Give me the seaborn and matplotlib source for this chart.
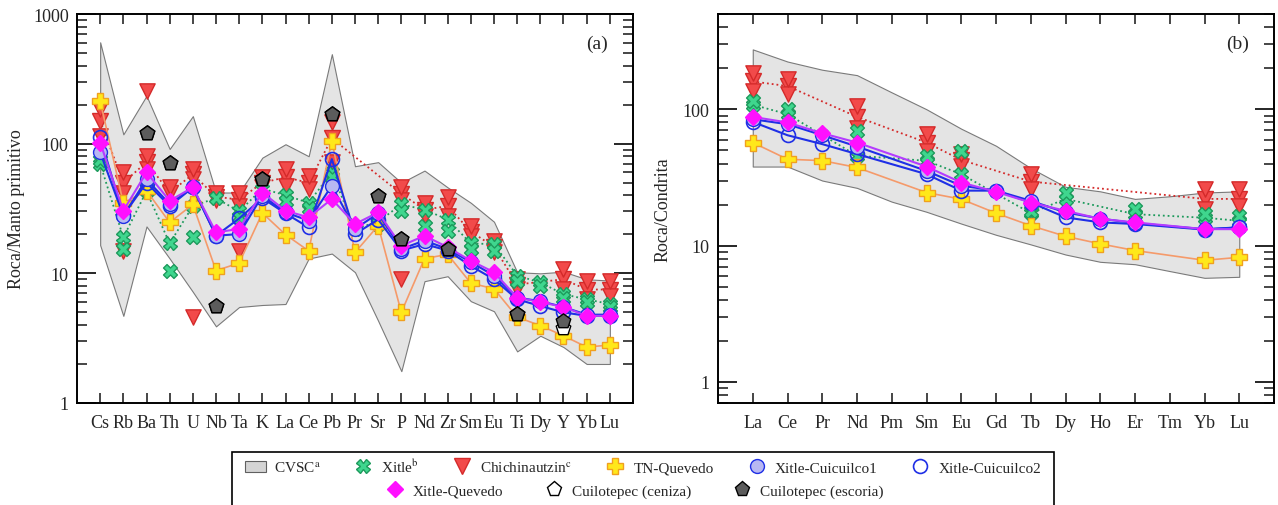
import numpy as np
import pandas as pd
import matplotlib.pyplot as plt
import seaborn as sns
from matplotlib.lines import Line2D
from matplotlib.patches import Patch, Rectangle
from matplotlib.ticker import FuncFormatter, NullFormatter, LogLocator

nan = np.nan

# ---- data: (a) multi-element diagram normalised to primitive mantle
spider_elems = ['Cs', 'Rb', 'Ba', 'Th', 'U', 'Nb', 'Ta', 'K', 'La', 'Ce', 'Pb', 'Pr',
                'Sr', 'P', 'Nd', 'Zr', 'Sm', 'Eu', 'Ti', 'Dy', 'Y', 'Yb', 'Lu']
cvsc_pm_hi = [605, 118, 234, 91, 163, 42, 42, 78, 99, 80, 490, 67, 72, 50, 62, 46, 35, 25, 10.2, 10, 10.3, 9.0, 8.8]
cvsc_pm_lo = [16.5, 4.7, 23, 13, 7.2, 3.9, 5.5, 5.7, 5.8, 13, 14.2, 10.2, 4.3, 1.76, 8.7, 9.5, 6.1, 5.1, 2.5, 3.3, 2.7, 2.0, 2.0]

xitle_pm_1 = [70, 18.9, 43, 17, 33, 38, 30, 45, 40, 35, 60, 22, 25, 34, 31, 26, 17, 16.8, 9.6, 8.5, 6.9, 6.3, 5.8]
xitle_pm_2 = [75, 15.4, 45, 10.5, 19, nan, 27, nan, 36, 32, 55, nan, 24, 30, 23.3, 21.3, 15.4, 15, 8.8, 8, 6.5, 6, 5.5]

chich_pm_1 = [185, 60, 80, 46, 64, 42, 42, 55, 64, 56, 147, nan, nan, 46, 35, 38.5, 23.3, 17.9, 9.0, nan, 10.8, 8.8, 8.8]
chich_pm_2 = [150, 50, 72, 42, 58, 39, 37, 50, 55, 50, 110, nan, nan, 41, 31, 33, 21, 16, 8.2, nan, 9.0, 7.5, 7.5]
chich_pm_3 = [115, 42, 64, nan, 53, 37, 33, 46, 47, 44.6, 72, nan, nan, 37, 27.8, 27.8, 19.5, 14.5, 7.6, nan, 7.6, 6.3, 6.7]
chich_pm_4 = [nan, 15, 256, nan, 4.6, nan, 15, nan, nan, nan, nan, nan, nan, 9.0, nan, nan, nan, nan, nan, nan, nan, nan, nan]

tnq_pm = [214, 34.8, 43.4, 24.7, 34, 10.5, 12.0, 29.2, 19.9, 14.9, 105, 14.5, 23.3, 5.0, 13, 14, 8.4, 7.6, 4.6, 3.95, 3.3, 2.7, 2.8]
cuic1_pm = [86, 27.8, 53, 34.2, 46, 19.5, 20.1, 39.7, 29.5, 25.5, 47.4, 22, 29, 15.4, 17.9, 15.4, 12.2, 9.6, 6.5, 6.1, 5.5, 4.8, 4.8]
cuic2_pm = [112, 28, 50, 33, 46, 19.5, 26.5, 38, 29, 22.6, 76, 20.1, 26, 15, 16.8, 15, 11.4, 9.0, 6.3, 5.6, 5.0, 4.7, 4.7]
xq_pm = [102, 30.4, 60, 36.3, 46, 20.7, 22, 42, 30.4, 27, 37.4, 24, 29.5, 16.3, 19.5, 15.9, 12.5, 10.2, 6.5, 6.0, 5.5, 4.7, 4.7]
ceniza_pm = [nan, nan, 121, 71, nan, 5.6, nan, 53, nan, nan, 169, nan, 39.7, 18.4, nan, 15.4, nan, nan, 4.9, nan, 3.8, nan, nan]
escoria_pm = [nan, nan, 121, 71, nan, 5.6, nan, 53, nan, nan, 169, nan, 39.7, 18.4, nan, 15.4, nan, nan, 4.9, nan, 4.3, nan, nan]

# ---- data: (b) REE normalised to chondrite
ree_elems = ['La', 'Ce', 'Pr', 'Nd', 'Pm', 'Sm', 'Eu', 'Gd', 'Tb', 'Dy', 'Ho', 'Er', 'Tm', 'Yb', 'Lu']
cvsc_ch_hi = [275, 224, 195, 178, 133, 100, 72, 54, 37, 27, 25, 22, 23, 24.5, 25]
cvsc_ch_lo = [38, 38, 30, 26.5, 21, 17.7, 14.5, 12, 10.2, 8.6, 7.6, 7.3, 6.5, 5.8, 5.9]

xitle_ch_1 = [115, 100, nan, 69, nan, 45.6, 49.5, nan, 18, 24.5, nan, 18.5, nan, 17, 16.6]
xitle_ch_2 = [108, 92, nan, 45.6, nan, 41.9, 33.4, nan, 17.3, 22, nan, 17, nan, 16, 15.2]
chich_ch_1 = [185, 166, nan, 106, nan, 65.6, 47, nan, 33.5, nan, nan, nan, nan, 26, 26]
chich_ch_2 = [160, 148, nan, 88, nan, 57, 42.5, nan, 29.5, nan, nan, nan, nan, 22, 22]
chich_ch_3 = [136, 129, nan, 73, nan, 49.5, 38.5, nan, 26, nan, nan, nan, nan, 18.5, 19.6]
tnq_ch = [57, 43, 42, 37.4, nan, 24.5, 21.9, 17.3, 14, 11.7, 10.3, 9.2, nan, 7.8, 8.2]
cuic1_ch = [84.5, 77.7, 64.5, 53.3, nan, 35.3, 27.5, 25.3, 21.3, 17.5, 15.8, 14.6, nan, 13.2, 13.6]
cuic2_ch = [80.8, 64.5, 55.5, 46.9, nan, 33.4, 25.3, 25.3, 20.7, 16.1, 14.8, 14.4, nan, 13.1, 13.6]
xq_ch = [88, 80, 66.7, 57, nan, 38, 29, 24.8, 20.7, 18, 15.7, 14.8, nan, 13.2, 13.2]

# ---- styles
GREEN_F, GREEN_E = '#3fd68e', '#1d9a5c'
RED_F, RED_E = '#f24a4a', '#d42a2a'
YEL_F, YEL_E, ORANGE = '#ffe81a', '#f0a020', '#f59a6a'
BLUE = '#1f2fe6'
LAV = '#b8b8f2'
MAG, PURP = '#ff10ff', '#b43cff'

sns.set_theme(style='ticks')
plt.rcParams['font.family'] = ['Liberation Serif', 'DejaVu Serif']
plt.rcParams['mathtext.fontset'] = 'stix'

fig = plt.figure(figsize=(12.78, 5.06), dpi=100)
ax1 = fig.add_axes([77 / 1278, 1 - 404 / 506, 556 / 1278, 389 / 506])
ax2 = fig.add_axes([718 / 1278, 1 - 404 / 506, 556 / 1278, 389 / 506])


def series(ax, vals, color, ls, lw, marker, ms, mfc, mec, mew=1.0, z=3):
    x = np.arange(len(vals), dtype=float)
    y = np.asarray(vals, dtype=float)
    ok = np.isfinite(y)
    df = pd.DataFrame({'x': x[ok], 'y': y[ok]})
    sns.lineplot(data=df, x='x', y='y', ax=ax, color=color, linestyle=ls, linewidth=lw,
                 marker=marker, markersize=ms, markerfacecolor=mfc, markeredgecolor=mec,
                 markeredgewidth=mew, zorder=z, sort=False, estimator=None)


def points(ax, vals, marker, ms, mfc, mec, z=8):
    x = np.arange(len(vals), dtype=float)
    y = np.asarray(vals, dtype=float)
    ok = np.isfinite(y)
    sns.scatterplot(x=x[ok], y=y[ok], ax=ax, marker=marker, s=ms ** 2, color=mfc,
                    edgecolor=mec, linewidth=1.0, zorder=z)


for ax in (ax1, ax2):
    ax.set_yscale('log')

# (a)
xa = np.arange(len(spider_elems))
ax1.fill_between(xa, cvsc_pm_lo, cvsc_pm_hi, facecolor='#e4e4e4', edgecolor='#7a7a7a', linewidth=0.8, zorder=1)
series(ax1, chich_pm_2, RED_E, ':', 1.3, 'v', 11, RED_F, RED_E, z=3)
for v in (chich_pm_3, chich_pm_1, chich_pm_4):
    points(ax1, v, 'v', 11, RED_F, RED_E, z=3)
series(ax1, xitle_pm_1, GREEN_E, ':', 1.3, 'X', 10, GREEN_F, GREEN_E, z=4)
points(ax1, xitle_pm_2, 'X', 10, GREEN_F, GREEN_E, z=4)
series(ax1, tnq_pm, ORANGE, '-', 1.2, 'P', 11, YEL_F, YEL_E, z=5)
series(ax1, cuic2_pm, BLUE, '-', 1.5, 'o', 10, 'none', BLUE, 1.2, z=6)
series(ax1, cuic1_pm, BLUE, '-', 1.5, 'o', 10, LAV, BLUE, 1.0, z=6)
series(ax1, xq_pm, PURP, '-', 1.5, 'D', 8, MAG, MAG, z=7)
points(ax1, ceniza_pm, 'p', 11, 'white', 'black', z=8)
points(ax1, escoria_pm, 'p', 11, '#5c5c5c', 'black', z=9)

ax1.set_xlim(-1, len(spider_elems))
ax1.set_ylim(1, 1000)
ax1.set_xticks(xa)
ax1.set_xticklabels(spider_elems)
ax1.set_ylabel('Roca/Manto primitivo', fontsize=13, labelpad=6)
ax1.text(0.935, 0.925, '(a)', transform=ax1.transAxes, ha='center', va='center', fontsize=14)

# (b)
xb = np.arange(len(ree_elems))
ax2.fill_between(xb, cvsc_ch_lo, cvsc_ch_hi, facecolor='#e4e4e4', edgecolor='#7a7a7a', linewidth=0.8, zorder=1)
series(ax2, chich_ch_2, RED_E, ':', 1.3, 'v', 11, RED_F, RED_E, z=3)
for v in (chich_ch_3, chich_ch_1):
    points(ax2, v, 'v', 11, RED_F, RED_E, z=3)
series(ax2, xitle_ch_2, GREEN_E, ':', 1.3, 'X', 10, GREEN_F, GREEN_E, z=4)
points(ax2, xitle_ch_1, 'X', 10, GREEN_F, GREEN_E, z=4)
series(ax2, tnq_ch, ORANGE, '-', 1.2, 'P', 11, YEL_F, YEL_E, z=5)
series(ax2, cuic2_ch, BLUE, '-', 1.5, 'o', 10, 'none', BLUE, 1.2, z=6)
series(ax2, cuic1_ch, BLUE, '-', 1.5, 'o', 10, LAV, BLUE, 1.0, z=6)
series(ax2, xq_ch, PURP, '-', 1.5, 'D', 8, MAG, MAG, z=7)

ax2.set_xlim(-1, len(ree_elems))
ax2.set_ylim(0.7, 500)
ax2.set_xticks(xb)
ax2.set_xticklabels(ree_elems)
ax2.set_ylabel('Roca/Condrita', fontsize=13, labelpad=8)
ax2.text(0.935, 0.925, '(b)', transform=ax2.transAxes, ha='center', va='center', fontsize=14)

for ax in (ax1, ax2):
    ax.set_xlabel('')
    ax.yaxis.set_major_locator(LogLocator(base=10))
    ax.yaxis.set_minor_locator(LogLocator(base=10, subs=np.arange(2, 10)))
    ax.yaxis.set_major_formatter(FuncFormatter(lambda v, p: '%g' % v))
    ax.yaxis.set_minor_formatter(NullFormatter())
    ax.tick_params(axis='y', which='major', direction='in', length=14, width=1.4,
                   left=True, right=True, labelsize=13, pad=6)
    ax.tick_params(axis='y', which='minor', direction='in', length=7, width=1.2, left=True, right=True)
    ax.tick_params(axis='x', which='major', direction='in', length=7, width=1.2,
                   top=True, bottom=True, labelsize=13, pad=8)
    ax.tick_params(axis='x', which='minor', bottom=False, top=False)
    for s in ax.spines.values():
        s.set_visible(True)
        s.set_linewidth(1.4)
        s.set_color('black')
    ax.grid(False)
    ax.set_facecolor('white')

# ---- legend
row1 = [
    Patch(facecolor='#d4d4d4', edgecolor='#606060', linewidth=0.8),
    Line2D([], [], ls='none', marker='X', ms=10, mfc=GREEN_F, mec=GREEN_E),
    Line2D([], [], ls='none', marker='v', ms=11, mfc=RED_F, mec=RED_E),
    Line2D([], [], ls='none', marker='P', ms=11, mfc=YEL_F, mec=YEL_E),
    Line2D([], [], ls='none', marker='o', ms=10, mfc=LAV, mec=BLUE),
    Line2D([], [], ls='none', marker='o', ms=10, mfc='none', mec=BLUE, mew=1.2),
]
labels1 = ['CVSC$^{\\mathrm{a}}$', 'Xitle$^{\\mathrm{b}}$', 'Chichinautzin$^{\\mathrm{c}}$',
           'TN-Quevedo', 'Xitle-Cuicuilco1', 'Xitle-Cuicuilco2']
row2 = [
    Line2D([], [], ls='none', marker='D', ms=8, mfc=MAG, mec=MAG),
    Line2D([], [], ls='none', marker='p', ms=11, mfc='white', mec='black'),
    Line2D([], [], ls='none', marker='p', ms=11, mfc='#5c5c5c', mec='black'),
]
labels2 = ['Xitle-Quevedo', 'Cuilotepec (ceniza)', 'Cuilotepec (escoria)']

fig.legend(row1, labels1, ncol=6, loc='center', bbox_to_anchor=(643 / 1278, 1 - 467 / 506),
           frameon=False, fontsize=11, columnspacing=2.1, handletextpad=0.5, handlelength=1.4,
           borderpad=0, borderaxespad=0)
fig.legend(row2, labels2, ncol=3, loc='center', bbox_to_anchor=(634 / 1278, 1 - 492 / 506),
           frameon=False, fontsize=11, columnspacing=2.6, handletextpad=0.5, handlelength=1.4,
           borderpad=0, borderaxespad=0)
fig.add_artist(Rectangle((232 / 1278, -0.02), (1054 - 232) / 1278, 0.02 + (506 - 453) / 506,
                         transform=fig.transFigure, fill=False, edgecolor='black', linewidth=1.2))

fig.savefig('out.png', dpi=100)
